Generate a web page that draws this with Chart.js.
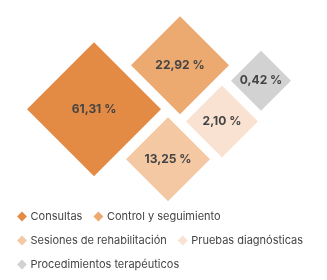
<!DOCTYPE html>
<html>
<head>
<meta charset="utf-8">
<script src="https://cdn.jsdelivr.net/npm/chart.js@4"></script>
<style>
  html, body { margin: 0; padding: 0; background: #fff; }
  #wrap { width: 327px; height: 280px; }
</style>
</head>
<body>
<div id="wrap"><canvas id="chart"></canvas></div>
<script>
var categories = [
  "Consultas",
  "Control y seguimiento",
  "Sesiones de rehabilitación",
  "Pruebas diagnósticas",
  "Procedimientos terapéuticos"
];
var shares = [61.31, 22.92, 13.25, 2.10, 0.42];

// layout of the diamonds, in scale units (not data)
var posX = [94, 180, 168, 222, 261];
var posY = [107, 64, 156, 119, 79];
var sizes = [67, 49, 42, 36, 30];

var colors = ["#E38A44", "#ECA970", "#F3C8A2", "#F9E2D1", "#D2D2D2"];
var fontFamily = "Inter, 'Open Sans', sans-serif";

var datasets = categories.map(function(name, i) {
  return {
    label: name,
    data: [{ x: posX[i], y: posY[i], r: sizes[i] }],
    backgroundColor: colors[i],
    borderWidth: 0,
    hoverBorderWidth: 0,
    pointStyle: "rectRot",
    clip: false
  };
});

// percent text in the middle of each diamond
var valueLabels = {
  id: "valueLabels",
  afterDatasetsDraw: function(chart) {
    var ctx = chart.ctx;
    ctx.save();
    ctx.font = "bold 12px " + fontFamily;
    ctx.fillStyle = "#444444";
    ctx.textAlign = "center";
    ctx.textBaseline = "middle";
    chart.data.datasets.forEach(function(ds, i) {
      var pt = chart.getDatasetMeta(i).data[0];
      var txt = shares[i].toFixed(2).replace(".", ",") + " %";
      ctx.fillText(txt, pt.x, pt.y);
    });
    ctx.restore();
  }
};

new Chart(document.getElementById("chart"), {
  type: "bubble",
  data: { datasets: datasets },
  options: {
    responsive: true,
    maintainAspectRatio: false,
    animation: false,
    layout: { padding: { left: 6 }, autoPadding: false },
    scales: {
      x: { display: false, min: 6, max: 327 },
      y: { display: false, min: 0, max: 194, reverse: true }
    },
    plugins: {
      tooltip: { enabled: false },
      legend: {
        position: "bottom",
        align: "start",
        labels: {
          usePointStyle: true,
          boxWidth: 6,
          boxHeight: 7,
          color: "#444444",
          font: { family: fontFamily, size: 11 },
          padding: 13
        }
      }
    }
  },
  plugins: [valueLabels]
});
</script>
</body>
</html>
